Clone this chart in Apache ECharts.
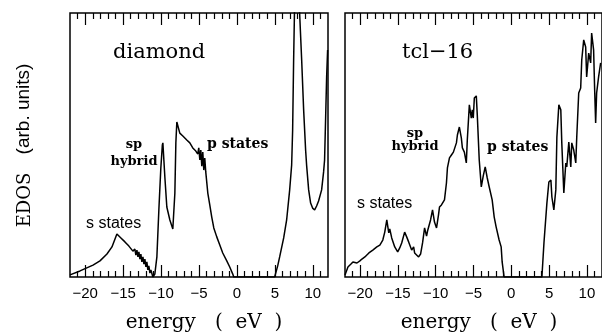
<!DOCTYPE html>
<html>
<head>
<meta charset="utf-8">
<script src="https://cdn.jsdelivr.net/npm/echarts@6/dist/echarts.min.js"></script>
<style>
  html, body { margin: 0; padding: 0; background: #fff; }
  #chart { width: 602px; height: 333px; }
</style>
</head>
<body>
<div id="chart"></div>
<script>
// energy (eV) and EDOS (arb. units, 0..100 = frame height)
const diamondE = [-22.00, -20.68, -18.97, -18.05, -17.13, -16.47, -15.82, -15.29, -14.76, -14.24, -13.71, -13.45,
    -13.32, -13.18, -13.05, -12.92, -12.79, -12.66, -12.53, -12.39, -12.26, -12.13, -12.00, -11.87, -11.74, -11.61,
    -11.47, -11.34, -11.08, -10.82, -10.55, -10.29, -10.03, -9.83, -9.76, -9.63, -9.50, -9.24, -8.84, -8.45, -8.18,
    -8.05, -7.92, -7.53, -7.13, -6.61, -6.21, -5.82, -5.42, -5.16, -5.03, -4.89, -4.76, -4.63, -4.50, -4.37, -4.24,
    -4.11, -3.84, -3.58, -3.32, -3.05, -2.66, -2.26, -1.87, -1.34, -0.95, -0.55, -0.42, 4.97, 5.37, 5.63, 6.16, 6.55,
    6.95, 7.21, 7.34, 7.47, 7.61, 7.74, 7.87, 8.00, 8.13, 8.26, 8.53, 8.79, 9.05, 9.18, 9.45, 9.71, 9.97, 10.24,
    10.50, 10.76, 11.16, 11.42, 11.55, 11.68, 11.82, 11.95];
const diamondDos = [0.8, 2.3, 4.5, 6.1, 8.7, 11.4, 16.3, 14.8, 13.3, 11.7, 9.8, 10.6,
    8.3, 10.2, 7.6, 9.5, 6.8, 8.7, 5.7, 7.6, 4.9, 6.8, 3.8, 5.7, 2.7, 4.2,
    1.5, 2.7, 0, 1.1, 7.6, 25.4, 41.3, 50, 50.8, 44.3, 37.9, 26.5, 21.6, 18.2, 31.8,
    50.8, 58.7, 54.5, 53.4, 51.9, 50.8, 48.9, 47.7, 46.6, 48.9, 44.3, 48.1, 42.0, 47.3, 40.5, 45.1,
    39.8, 31.8, 27.3, 22.7, 18.6, 15.2, 12.1, 9.1, 6.1, 3.8, 1.1, 0, 0, 4.2, 7.6, 14.8, 21.6,
    33.0, 42.4, 55.7, 82.2, 105, 112, 103, 112, 103, 100, 82.2, 63.3, 48.1, 42.4, 33.0, 28.0, 26.1, 25.4,
    26.9, 28.8, 33.0, 39.8, 44.3, 59.5, 75.8, 86.0];

const tclE = [-22.00, -21.61, -21.21, -20.95, -20.42, -20.03, -19.76, -19.37, -18.84, -18.32, -17.79, -17.39,
    -17.00, -16.74, -16.47, -16.21, -16.08, -15.82, -15.42, -15.03, -14.76, -14.50, -14.11, -13.84, -13.58, -13.18,
    -12.92, -12.79, -12.53, -12.26, -12.00, -11.74, -11.47, -11.21, -11.08, -10.68, -10.42, -10.16, -9.89, -9.63,
    -9.50, -9.24, -8.84, -8.58, -8.45, -8.18, -7.92, -7.66, -7.26, -7.13, -6.87, -6.61, -6.47, -6.21, -5.95, -5.82,
    -5.55, -5.29, -5.16, -5.03, -4.89, -4.63, -4.50, -4.24, -3.97, -3.71, -3.45, -3.18, -2.92, -2.53, -2.26, -2.00,
    -1.61, -1.34, -1.21, -0.95, 4.05, 4.32, 4.71, 4.97, 5.24, 5.37, 5.63, 5.89, 6.03, 6.29, 6.55, 6.68, 6.95, 7.21,
    7.34, 7.61, 7.87, 8.00, 8.26, 8.53, 8.66, 8.92, 9.18, 9.32, 9.58, 9.84, 9.97, 10.24, 10.50, 10.63, 10.89, 11.03,
    11.16, 11.29, 11.55, 11.82];
const tclDos = [0.8, 3.8, 4.9, 5.7, 5.3, 6.1, 6.8, 7.6, 9.1, 10.2, 11.4, 12.1,
    14.0, 17.0, 21.6, 16.7, 18.2, 14.8, 11.4, 9.5, 11.0, 12.9, 17.0, 15.2, 13.3, 10.2,
    11.4, 9.1, 9.8, 7.6, 8.7, 12.9, 18.6, 15.5, 17.4, 21.6, 25.4, 20.8, 18.6, 23.5,
    26.5, 27.3, 29.2, 35.6, 41.3, 45.1, 46.2, 47.3, 50.8, 53.8, 56.8, 52.7, 48.9, 47.3, 43.2, 51.9,
    65.2, 60.2, 63.3, 60.2, 67.8, 68.6, 61.4, 44.3, 34.1, 38.3, 41.7, 37.5, 34.1, 29.2, 22.7, 18.9,
    14.0, 11.4, 5.7, 0, 0, 12.9, 28.0, 36.0, 36.7, 30.3, 25.4, 33.0, 53.0, 65.2, 63.3, 50.8, 31.8, 43.2,
    41.7, 51.1, 41.7, 50.8, 48.1, 43.2, 53.0, 69.7, 71.6, 82.2, 89.8, 87.1, 75.8, 84.8, 81.1, 92.4, 86.0, 70.8,
    58.3, 69.7, 75.8, 81.1];

const majorTicks = [-20, -15, -10, -5, 0, 5, 10];
const minorTicks = [-21, -19, -18, -17, -16, -14, -13, -12, -11, -9, -8, -7, -6, -4, -3, -2, -1,
    1, 2, 3, 4, 6, 7, 8, 9, 11];

const serif = '"DejaVu Serif", serif';
const sans = '"Liberation Sans", Arial, sans-serif';

function pairs(xs, ys) {
    return xs.map((x, i) => [x, ys[i]]);
}

function xAxes(gridIndex) {
    const base = {
        gridIndex: gridIndex,
        type: 'value',
        min: -22,
        max: 12,
        axisLine: { show: false },
        splitLine: { show: false },
        axisLabel: { show: false }
    };
    const tick = (values, len) => ({
        show: true, inside: true, length: len, customValues: values,
        lineStyle: { color: '#000', width: 1.2 }
    });
    return [
        Object.assign({}, base, {
            position: 'bottom',
            axisTick: tick(majorTicks, 12),
            axisLabel: {
                show: true,
                customValues: majorTicks,
                margin: 9,
                color: '#000',
                fontFamily: sans,
                fontSize: 15,
                formatter: v => (v < 0 ? '\u2212' + (-v) : '' + v)
            }
        }),
        Object.assign({}, base, { position: 'bottom', axisTick: tick(minorTicks, 6) }),
        Object.assign({}, base, { position: 'top', axisTick: tick(majorTicks, 12) }),
        Object.assign({}, base, { position: 'top', axisTick: tick(minorTicks, 6) })
    ];
}

function label(text, x, y, font, align, rotation) {
    return {
        type: 'text', x: x, y: y, rotation: rotation || 0,
        style: { text: text, font: font, fill: '#000', align: align || 'left', verticalAlign: 'middle' }
    };
}

const chart = echarts.init(document.getElementById('chart'), null, { renderer: 'canvas' });
chart.setOption({
    animation: false,
    backgroundColor: '#fff',
    grid: [
        { left: 70, top: 13, width: 258, height: 264, show: true, borderColor: '#000', borderWidth: 1.5 },
        { left: 345, top: 13, width: 258, height: 264, show: true, borderColor: '#000', borderWidth: 1.5 }
    ],
    xAxis: xAxes(0).concat(xAxes(1)),
    yAxis: [
        { gridIndex: 0, type: 'value', min: 0, max: 100, show: false },
        { gridIndex: 1, type: 'value', min: 0, max: 100, show: false }
    ],
    series: [
        {
            type: 'line', xAxisIndex: 0, yAxisIndex: 0, data: pairs(diamondE, diamondDos),
            symbol: 'none', clip: true, lineStyle: { color: '#000', width: 1.5 }
        },
        {
            type: 'line', xAxisIndex: 4, yAxisIndex: 1, data: pairs(tclE, tclDos),
            symbol: 'none', clip: true, lineStyle: { color: '#000', width: 1.5 }
        }
    ],
    graphic: [
        label('diamond', 113, 53, '21px ' + serif),
        label('tcl\u221216', 402, 53, '21px ' + serif),
        label('sp', 134, 145, 'bold 13px ' + serif, 'center'),
        label('hybrid', 134, 162, 'bold 13px ' + serif, 'center'),
        label('p states', 207, 144, 'bold 14px ' + serif),
        label('s states', 86, 224, '16px ' + sans),
        label('sp', 415, 134, 'bold 13px ' + serif, 'center'),
        label('hybrid', 415, 147, 'bold 13px ' + serif, 'center'),
        label('p states', 487, 147, 'bold 14px ' + serif),
        label('s states', 357, 204, '16px ' + sans),
        label('energy   (  eV  )', 204, 323, '20px ' + serif, 'center'),
        label('energy   (  eV  )', 479, 323, '20px ' + serif, 'center'),
        label('EDOS', 25, 200, '18px ' + serif, 'center', Math.PI / 2),
        label('(arb. units)', 24, 109, '19px ' + sans, 'center', Math.PI / 2)
    ]
});
</script>
</body>
</html>
